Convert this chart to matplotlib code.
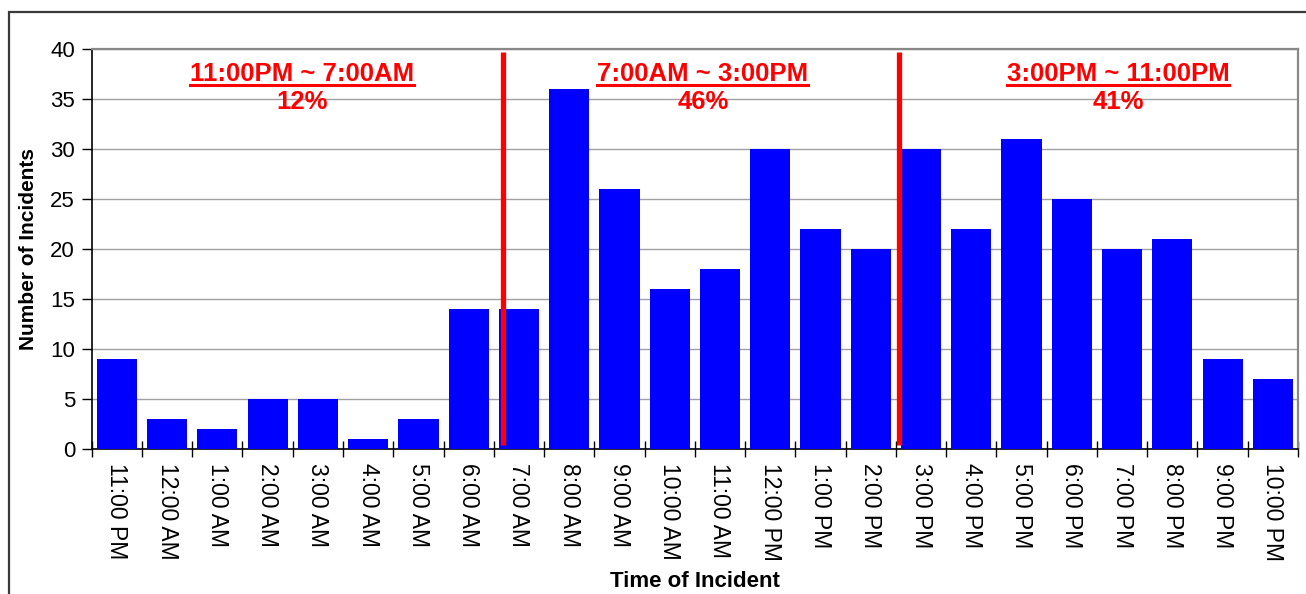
import matplotlib
matplotlib.use("Agg")
import matplotlib.pyplot as plt
from matplotlib.patches import Rectangle
from matplotlib.lines import Line2D
import numpy as np

plt.rcParams['font.family'] = ['Liberation Sans', 'DejaVu Sans']

categories = ["11:00 PM", "12:00 AM", "1:00 AM", "2:00 AM", "3:00 AM", "4:00 AM",
              "5:00 AM", "6:00 AM", "7:00 AM", "8:00 AM", "9:00 AM", "10:00 AM",
              "11:00 AM", "12:00 PM", "1:00 PM", "2:00 PM", "3:00 PM", "4:00 PM",
              "5:00 PM", "6:00 PM", "7:00 PM", "8:00 PM", "9:00 PM", "10:00 PM"]
incidents = [9, 3, 2, 5, 5, 1, 3, 14, 14, 36, 26, 16, 18, 30, 22, 20,
             30, 22, 31, 25, 20, 21, 9, 7]
shift_labels = ["11:00PM ~ 7:00AM", "7:00AM ~ 3:00PM", "3:00PM ~ 11:00PM"]
shift_pcts = ["12%", "46%", "41%"]
shift_label_x = [3.68, 11.66, 19.92]
shift_divider_x = [7.68, 15.56]

W, H = 1306, 594
fig = plt.figure(figsize=(W / 100, H / 100), dpi=100)
fig.patch.set_facecolor('white')

# outer figure frame (left and top edges visible)
fig.patches.append(Rectangle((9 / W, -0.1), 1.2, 1 - 12 / H + 0.1,
                             transform=fig.transFigure, fill=False,
                             edgecolor='#3a3a3a', linewidth=1.6, zorder=0))

ax = fig.add_axes([91.7 / W, 1 - 449 / H, (1298 - 91.7) / W, 400 / H])
x = np.arange(len(categories))
ax.bar(x, incidents, width=0.8, color='#0000FF', zorder=3)

ax.set_xlim(-0.5, len(categories) - 0.5)
ax.set_ylim(0, 40)
ax.set_yticks(np.arange(0, 41, 5))
ax.yaxis.grid(True, color='#a0a0a0', linewidth=1.0, zorder=0)
ax.set_axisbelow(True)

ax.set_xticks(x)
ax.set_xticklabels(categories, rotation=270, fontsize=16.5)
ax.set_xticks(np.arange(-0.5, len(categories), 1), minor=True)
ax.tick_params(axis='x', which='major', length=0, pad=10)
ax.tick_params(axis='x', which='minor', direction='inout', length=11, width=1, color='black')
ax.tick_params(axis='y', direction='out', length=7, width=1, labelsize=16, pad=5)

for s in ['top', 'right']:
    ax.spines[s].set_color('#888888')
    ax.spines[s].set_linewidth(1.6)
for s in ['left', 'bottom']:
    ax.spines[s].set_color('black')
    ax.spines[s].set_linewidth(1.2)

ax.set_ylabel("Number of Incidents", fontsize=15, fontweight='bold')
ax.yaxis.set_label_coords(-54 / (1298 - 91.7), 0.5)
ax.set_xlabel("Time of Incident", fontsize=16, fontweight='bold')
ax.xaxis.set_label_coords(0.5, -(571 - 449) / 400)

for dx in shift_divider_x:
    ax.plot([dx, dx], [0.4, 39.7], color='#FF0000', linewidth=3.8, zorder=4,
            solid_capstyle='butt')

texts = []
for lx, lab, pct in zip(shift_label_x, shift_labels, shift_pcts):
    t = ax.text(lx, 37.5, lab, color='#FF0000', fontsize=18.5, fontweight='bold',
                ha='center', va='center', zorder=5)
    ax.text(lx, 34.7, pct, color='#FF0000', fontsize=18.5, fontweight='bold',
            ha='center', va='center', zorder=5)
    texts.append(t)

fig.canvas.draw()
renderer = fig.canvas.get_renderer()
for t in texts:
    bb = t.get_window_extent(renderer)
    yline = bb.y0 + 1
    fig.lines.append(Line2D([bb.x0 / W, bb.x1 / W], [yline / H, yline / H],
                            transform=fig.transFigure, color='#FF0000',
                            linewidth=2.2, zorder=6))

fig.savefig("out.png", dpi=100, facecolor='white')
